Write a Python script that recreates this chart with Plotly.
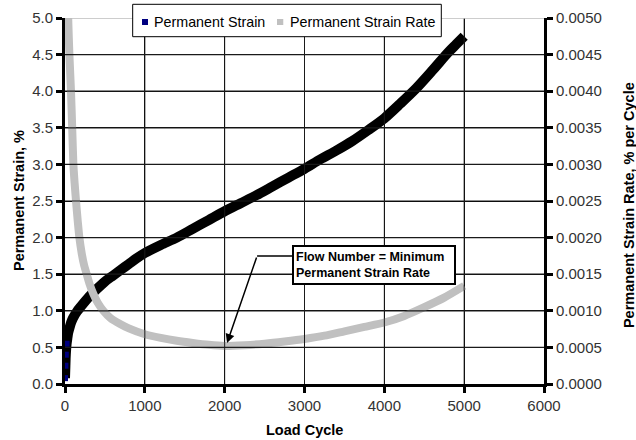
import plotly.graph_objects as go

# Permanent strain data (%)
strain_cycles = [0, 5, 10, 20, 30, 40, 60, 80, 100, 150, 200, 300, 400, 500, 600, 700, 800, 900,
                 1000, 1200, 1400, 1600, 1800, 2000, 2200, 2400, 2600, 2800, 3000, 3200, 3400,
                 3600, 3800, 4000, 4200, 4400, 4600, 4800, 4900, 5000]
strain_values = [0.08, 0.25, 0.40, 0.55, 0.63, 0.70, 0.78, 0.85, 0.90, 0.99, 1.06, 1.19, 1.30,
                 1.40, 1.48, 1.56, 1.64, 1.72, 1.79, 1.90, 2.00, 2.12, 2.24, 2.36, 2.47, 2.58,
                 2.70, 2.82, 2.94, 3.07, 3.19, 3.32, 3.47, 3.63, 3.83, 4.04, 4.28, 4.53, 4.64, 4.75]

# Permanent strain rate data (% per cycle)
rate_cycles = [25, 40, 55, 75, 90, 105, 120, 138, 160, 180, 210, 240, 272, 310, 355, 410, 480,
               570, 690, 800, 1000, 1200, 1400, 1600, 1800, 2000, 2250, 2500, 2750, 3000, 3250,
               3500, 3750, 4000, 4250, 4500, 4750, 5000]
rate_values = [0.0060, 0.0050, 0.0045, 0.0040, 0.0035, 0.0030, 0.00275, 0.0025, 0.00222,
               0.0020, 0.00178, 0.00162, 0.0015, 0.00136, 0.00123, 0.00111, 0.00100, 0.00090,
               0.00082, 0.00076, 0.00068, 0.00063, 0.00059, 0.00056, 0.000535, 0.00052,
               0.00053, 0.00055, 0.00058, 0.000615, 0.00066, 0.00072, 0.00078, 0.00084,
               0.00093, 0.00105, 0.00118, 0.00134]

x_ticks = [0, 1000, 2000, 3000, 4000, 5000, 6000]
y_ticks = [0.0, 0.5, 1.0, 1.5, 2.0, 2.5, 3.0, 3.5, 4.0, 4.5, 5.0]
y2_ticks = [0.0, 0.0005, 0.0010, 0.0015, 0.0020, 0.0025, 0.0030, 0.0035, 0.0040, 0.0045, 0.0050]

series_names = ["Permanent Strain", "Permanent Strain Rate"]

NAVY = "#000080"
GRAY = "#c0c0c0"
FONT = "Liberation Sans, Arial, sans-serif"

X_MIN, X_MAX = x_ticks[0], x_ticks[-1]
Y_MIN, Y_MAX = y_ticks[0], y_ticks[-1]

fig = go.Figure()

# Gridlines at the tick values (drawn as shapes through the data axes)
for xv in x_ticks[1:-1]:
    fig.add_shape(type="line", xref="x", yref="y", x0=xv, x1=xv, y0=Y_MIN, y1=Y_MAX,
                  line=dict(color="#1a1a1a", width=1), layer="above")
for yv in y_ticks[1:-1]:
    fig.add_shape(type="line", xref="paper", yref="y", x0=0, x1=1, y0=yv, y1=yv,
                  line=dict(color="#1a1a1a", width=1.2), layer="above")
# Top gridline appears light gray in the original
fig.add_shape(type="line", xref="paper", yref="y", x0=0, x1=1, y0=Y_MAX, y1=Y_MAX,
              line=dict(color="#bdbdbd", width=1.5), layer="above")

# Strain curve (thick black band of navy/black square markers)
fig.add_trace(go.Scatter(
    x=strain_cycles, y=strain_values, mode="lines", name=series_names[0],
    line=dict(color="#000000", width=10, shape="spline", smoothing=0.8),
    showlegend=False, hoverinfo="skip"))
fig.add_trace(go.Scatter(
    x=strain_cycles[:4], y=strain_values[:4], mode="markers", name=series_names[0],
    marker=dict(symbol="square", size=6, color=NAVY, line=dict(width=0)),
    showlegend=False, hoverinfo="skip"))

# Strain rate curve (thick gray) on secondary axis
fig.add_trace(go.Scatter(
    x=rate_cycles, y=rate_values, mode="lines", yaxis="y2", name=series_names[1],
    line=dict(color=GRAY, width=8, shape="spline", smoothing=0.6),
    showlegend=False, hoverinfo="skip"))

axis_common = dict(
    showline=True, linecolor="#000000", linewidth=3,
    ticks="outside", ticklen=6, tickwidth=3, tickcolor="#000000",
    tickfont=dict(family=FONT, size=15, color="#333333"),
    zeroline=False, automargin=False,
)

fig.update_layout(
    width=636, height=440,
    margin=dict(l=65, r=92, t=18, b=56),
    paper_bgcolor="white", plot_bgcolor="white",
    font=dict(family=FONT, size=14, color="#000000"),
    showlegend=False,
    xaxis=dict(range=[X_MIN, X_MAX], tickvals=x_ticks, showgrid=True, gridcolor="#000000",
               gridwidth=1, **axis_common),
    yaxis=dict(range=[Y_MIN, Y_MAX], tickvals=y_ticks, tickformat=".1f", showgrid=True,
               gridcolor="#000000", gridwidth=1, **axis_common),
    yaxis2=dict(range=[y2_ticks[0], y2_ticks[-1]], tickvals=y2_ticks, tickformat=".4f",
                overlaying="y", side="right", showgrid=False, **axis_common),
)

# Axis titles
title_font = dict(family=FONT, size=14.5, color="#000000")
fig.add_annotation(text="<b>Load Cycle</b>", xref="paper", yref="paper", x=0.5, y=-0.1257,
                   xanchor="center", yanchor="middle", showarrow=False, font=title_font)
fig.add_annotation(text="<b>Permanent Strain, %</b>", xref="paper", yref="paper", x=-0.096,
                   y=0.5, xanchor="center", yanchor="middle", textangle=-90,
                   showarrow=False, font=title_font)
fig.add_annotation(text="<b>Permanent Strain Rate, % per Cycle</b>", xref="paper",
                   yref="paper", x=1.1775, y=0.489, xanchor="center", yanchor="middle",
                   textangle=-90, showarrow=False, font=title_font)

# Legend box (drawn manually to match the compact original layout)
fig.add_shape(type="rect", xref="paper", yref="paper", x0=0.1413, x1=0.7856,
              y0=0.9489, y1=1.0374, fillcolor="white", line=dict(color="#000000", width=1),
              layer="above")
fig.add_shape(type="rect", xref="paper", yref="paper", x0=0.1608, x1=0.1733,
              y0=0.9809, y1=0.9973, fillcolor=NAVY, line=dict(width=0), layer="above")
fig.add_shape(type="rect", xref="paper", yref="paper", x0=0.4426, x1=0.4557,
              y0=0.9809, y1=0.9973, fillcolor=GRAY, line=dict(width=0), layer="above")
legend_font = dict(family=FONT, size=14.3, color="#000000")
fig.add_annotation(text=series_names[0], xref="paper", yref="paper", x=0.1837, y=0.9899,
                   xanchor="left", yanchor="middle", showarrow=False, borderpad=0,
                   font=legend_font)
fig.add_annotation(text=series_names[1], xref="paper", yref="paper", x=0.467, y=0.9899,
                   xanchor="left", yanchor="middle", showarrow=False, borderpad=0,
                   font=legend_font)

# Flow number callout box
fig.add_annotation(
    x=3872, y=1.63, xref="x", yref="y", xanchor="center", yanchor="middle",
    text="<b>Flow Number = Minimum<br>Permanent Strain Rate</b>", showarrow=False,
    align="left", width=156, height=32, bgcolor="white", bordercolor="#000000",
    borderwidth=2, borderpad=2, font=dict(family=FONT, size=12.5, color="#000000"))

# Elbow connector: horizontal piece then arrow
fig.add_shape(type="line", xref="x", yref="y", x0=2406, x1=2845, y0=1.75, y1=1.75,
              line=dict(color="#000000", width=1.5))
fig.add_annotation(
    x=2030, y=0.56, xref="x", yref="y", ax=2406, ay=1.75, axref="x", ayref="y",
    text="", showarrow=True, arrowhead=2, arrowsize=1.2, arrowwidth=1.5,
    arrowcolor="#000000")

fig.write_html("out.html")
